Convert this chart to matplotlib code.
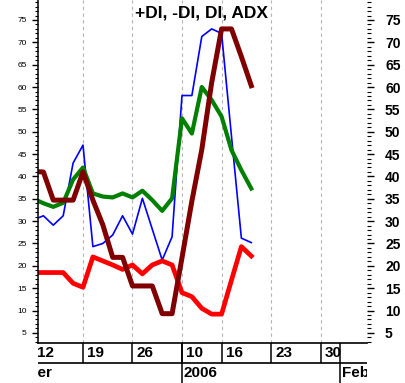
import matplotlib
matplotlib.use('Agg')
import matplotlib.pyplot as plt
from matplotlib.ticker import MultipleLocator

plt.rcParams['font.family'] = 'Liberation Sans'

# trading day index, 0 = Dec 12 2005
days = [0, 1, 2, 3, 4, 5, 6, 7, 8, 9, 10, 11, 12, 13, 14, 15, 16, 17, 18, 19, 20, 21, 22]

plus_di = [30.3, 31.2, 29.1, 31.2, 43.0, 47.0, 24.3, 25.0, 26.9, 31.2, 27.1, 35.1,
           28.2, 21.3, 26.5, 58.1, 58.1, 71.3, 73.0, 72.0, 49.0, 26.2, 25.2]
di = [35.0, 34.0, 33.2, 34.1, 39.3, 42.0, 36.2, 35.5, 35.3, 36.2, 35.3, 36.8,
      34.7, 32.3, 35.1, 53.0, 49.6, 60.0, 57.1, 53.4, 45.9, 41.4, 37.3]
minus_di = [18.5, 18.5, 18.5, 18.5, 16.1, 15.2, 22.0, 21.1, 20.2, 19.2, 20.2, 18.2,
            20.2, 21.1, 20.2, 14.0, 13.1, 10.5, 9.2, 9.2, 16.8, 24.3, 22.2]
adx = [41.1, 41.0, 34.7, 34.7, 34.7, 41.0, 34.7, 29.2, 21.9, 21.9, 15.5, 15.5,
       15.5, 9.3, 9.3, 21.8, 34.5, 46.0, 61.0, 73.0, 73.0, 66.8, 60.3]

week_pos = [0, 5, 10, 15, 19, 24, 29]
week_labels = ['12', '19', '26', '10', '16', '23', '30']
month_pos = [15, 31]
month_labels = ['2006', 'Feb']

W, H = 405., 383.
xlim = (0.455, 33.69)
ylim = (2.74, 79.47)

fig = plt.figure(figsize=(W/100, H/100), dpi=100)
ax = fig.add_axes([38/W, 40/H, 329/W, 343/H])
ax.set_xlim(xlim)
ax.set_ylim(ylim)

for p in week_pos[1:]:
    ax.axvline(p, color='#b4b4b4', lw=0.8, ls=(0, (3, 3)), zorder=0)

ax.plot(days, plus_di, color='#0000ff', lw=1.2)
ax.plot(days, di, color='#008000', lw=3.0)
ax.plot(days, minus_di, color='#ff0000', lw=3.4)
ax.plot(days, adx, color='#800000', lw=3.6)

for s in ['top', 'right', 'bottom']:
    ax.spines[s].set_visible(False)
ax.spines['left'].set_linewidth(1.1)
ax.set_xticks([])
ax.yaxis.set_major_locator(MultipleLocator(5))
ax.yaxis.set_minor_locator(MultipleLocator(1))
ax.tick_params(axis='y', which='major', length=4, width=1, labelsize=6, pad=4)
ax.tick_params(axis='y', which='minor', length=2, width=0.8)

# right axis with bold labels
ax2 = ax.twinx()
ax2.set_ylim(ylim)
for s in ax2.spines.values():
    s.set_visible(False)
ax2.set_yticks(list(range(5, 80, 5)), [str(v) for v in range(5, 80, 5)],
               fontsize=10, fontweight='bold')
ax2.yaxis.set_minor_locator(MultipleLocator(1))
ax2.tick_params(axis='y', which='major', length=5, width=1, pad=8)
ax2.tick_params(axis='y', which='minor', length=3, width=0.8)

# date band under the plot
lab = fig.add_axes([38/W, 0, 329/W, 40/H])
lab.set_xlim(xlim)
lab.set_ylim(0, 40)
lab.axis('off')
lab.axhline(40, color='k', lw=1.2, clip_on=False)
lab.axhline(20, color='k', lw=1.2)
lab.vlines(week_pos, 20, 40, color='k', lw=1.1)
lab.vlines(month_pos, 0, 40, color='k', lw=1.1)
for p, t in zip(week_pos, week_labels):
    lab.text(p + 0.4, 30, t, fontsize=11, fontweight='bold', ha='left', va='center', clip_on=True)
# month name starts off the left edge, only its tail shows
lab.text(1.9, 10, 'December', fontsize=11, fontweight='bold', ha='right', va='center', clip_on=True)
for p, t in zip(month_pos, month_labels):
    lab.text(p + 0.15, 10, t, fontsize=11, fontweight='bold', ha='left', va='center', clip_on=True)

fig.text(201.5/W, 1 - 13/H, '+DI, -DI, DI, ADX', ha='center', va='center',
         fontsize=12.5, fontweight='bold')

fig.savefig('out.png', dpi=100)
